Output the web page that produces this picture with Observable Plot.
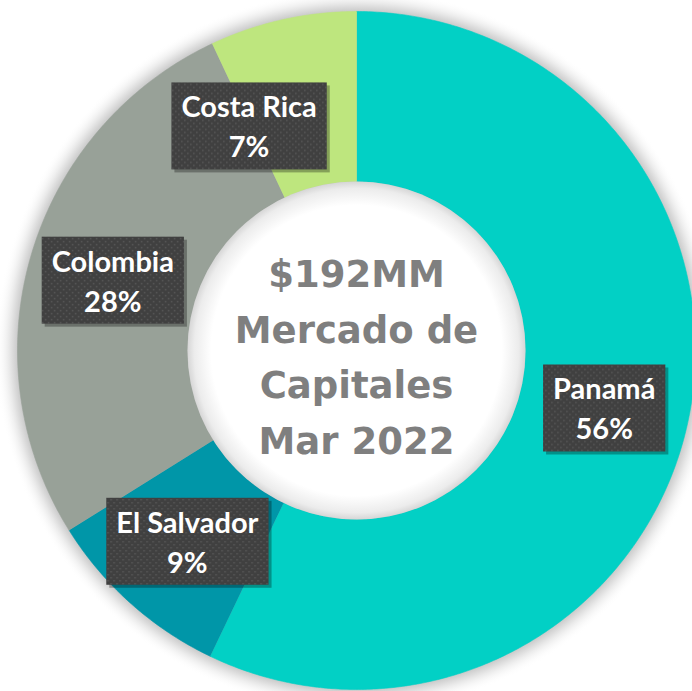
<!DOCTYPE html>
<html>
<head>
<meta charset="utf-8">
<script src="https://cdn.jsdelivr.net/npm/d3@7"></script>
<script src="https://cdn.jsdelivr.net/npm/@observablehq/plot@0.6"></script>
<style>
  html, body { margin: 0; padding: 0; background: #ffffff; }
  #chart { width: 692px; height: 691px; overflow: hidden; }
</style>
</head>
<body>
<div id="chart"></div>
<script>
// ---- Data ----
const paises = ["Panamá", "El Salvador", "Colombia", "Costa Rica"];
const participacion = [57.1, 9.0, 26.9, 7.0];          // share of ring (angles measured)
const etiquetas = ["56%", "9%", "28%", "7%"];           // printed labels
const colores = ["#02D0C5", "#0096A8", "#98A198", "#BEE67E"];
const textoCentro = ["$192MM", "Mercado de", "Capitales", "Mar 2022"];

// ---- Geometry ----
const W = 692, H = 691;
const CX = 356, CY = 350, RPX = 339;
const rOut = 1, rIn = 169 / 339, rLab = (rOut + rIn) / 2;

const total = d3.sum(participacion);
let acc = 0;
const slices = paises.map((p, i) => {
  const a0 = acc / total * 2 * Math.PI;
  acc += participacion[i];
  const a1 = acc / total * 2 * Math.PI;
  return {pais: p, a0, a1, mid: (a0 + a1) / 2, etiqueta: p + "\n" + etiquetas[i]};
});

const ring = [];
for (const s of slices) {
  const n = Math.max(4, Math.ceil((s.a1 - s.a0) / (Math.PI / 360)));
  for (let k = 0; k <= n; k++) {
    const a = s.a0 + (s.a1 - s.a0) * k / n;
    ring.push({pais: s.pais, x: rOut * Math.sin(a), y: rOut * Math.cos(a)});
  }
  for (let k = n; k >= 0; k--) {
    const a = s.a0 + (s.a1 - s.a0) * k / n;
    ring.push({pais: s.pais, x: rIn * Math.sin(a), y: rIn * Math.cos(a)});
  }
}

const labels = slices.map(s => ({pais: s.pais, t: s.etiqueta, x: rLab * Math.sin(s.mid), y: rLab * Math.cos(s.mid)}));
const labelsMain = labels.filter(d => d.pais !== "Costa Rica");
const labelsCR = labels.filter(d => d.pais === "Costa Rica");

const labelStyle = {
  x: "x", y: "y", text: "t", fontSize: 29, lineHeight: 1.38,
  fontFamily: "Lato", fontWeight: "bold", fill: "#ffffff", ariaDescription: "etiquetas"
};

const plot = Plot.plot({
  width: W,
  height: H,
  margin: 0,
  style: {background: "transparent"},
  x: {domain: [-1, 1], range: [CX - RPX, CX + RPX], axis: null},
  y: {domain: [-1, 1], range: [CY + RPX, CY - RPX], axis: null},
  color: {domain: paises, range: colores},
  marks: [
    Plot.dot([{x: 0, y: 0}], {x: "x", y: "y", r: RPX + 22, fill: "url(#brillo)", stroke: "none"}),
    Plot.line(ring, {x: "x", y: "y", z: "pais", fill: "pais", stroke: "pais", strokeWidth: 0.6}),
    Plot.dot([{x: 0, y: 0}], {x: "x", y: "y", r: 169, fill: "url(#hueco)", stroke: "none"}),
    Plot.text([{x: 0, y: 0, t: textoCentro.join("\n")}], {
      x: "x", y: "y", text: "t", fontSize: 37, lineHeight: 1.5, dy: 2,
      fontFamily: "DejaVu Sans", fontWeight: "bold", fill: "#7F7F7F"
    }),
    Plot.text(labelsMain, {...labelStyle}),
    Plot.text(labelsCR, {...labelStyle, dx: -52, dy: 22})
  ]
});

document.getElementById("chart").appendChild(plot);

// ---- defs: glow gradient, dotted box pattern, hole gradient ----
const svg = d3.select(plot);
const defs = svg.insert("defs", ":first-child");

const glow = defs.append("radialGradient").attr("id", "brillo");
const k0 = RPX / (RPX + 22);
glow.append("stop").attr("offset", 0).attr("stop-color", "#bdbdbd");
glow.append("stop").attr("offset", k0 - 0.01).attr("stop-color", "#bdbdbd");
glow.append("stop").attr("offset", k0 + (1 - k0) * 0.35).attr("stop-color", "#e6e6e6");
glow.append("stop").attr("offset", 1).attr("stop-color", "#ffffff").attr("stop-opacity", 0);

const pat = defs.append("pattern").attr("id", "puntos")
  .attr("patternUnits", "userSpaceOnUse").attr("width", 6).attr("height", 6);
pat.append("rect").attr("width", 6).attr("height", 6).attr("fill", "#404040");
pat.append("rect").attr("x", 1).attr("y", 1).attr("width", 1.5).attr("height", 1.5).attr("fill", "#575757");
pat.append("rect").attr("x", 4).attr("y", 4).attr("width", 1.5).attr("height", 1.5).attr("fill", "#575757");

const grad = defs.append("radialGradient").attr("id", "hueco");
grad.append("stop").attr("offset", "0%").attr("stop-color", "#ffffff");
grad.append("stop").attr("offset", "86%").attr("stop-color", "#ffffff");
grad.append("stop").attr("offset", "96%").attr("stop-color", "#ececec");
grad.append("stop").attr("offset", "100%").attr("stop-color", "#d6d6d6");

svg.selectAll('g[aria-description="etiquetas"]').each(function () {
  const g = this;
  const boxes = d3.select(g.parentNode).insert("g", () => g);
  const gtr = g.getAttribute("transform");
  if (gtr) boxes.attr("transform", gtr);
  d3.select(g).selectAll("text").each(function () {
    const b = this.getBBox();
    const tr = this.getAttribute("transform");
    const w = b.width + 20, h = 87;
    const cxb = b.x + b.width / 2, cyb = b.y + b.height / 2;
    const s = boxes.append("rect")
      .attr("x", cxb - w / 2 + 3).attr("y", cyb - h / 2 + 3)
      .attr("width", w).attr("height", h)
      .attr("fill", "#000").attr("fill-opacity", 0.3);
    const r = boxes.append("rect")
      .attr("x", cxb - w / 2).attr("y", cyb - h / 2)
      .attr("width", w).attr("height", h)
      .attr("fill", "url(#puntos)");
    if (tr) { r.attr("transform", tr); s.attr("transform", tr); }
  });
});
</script>
</body>
</html>
